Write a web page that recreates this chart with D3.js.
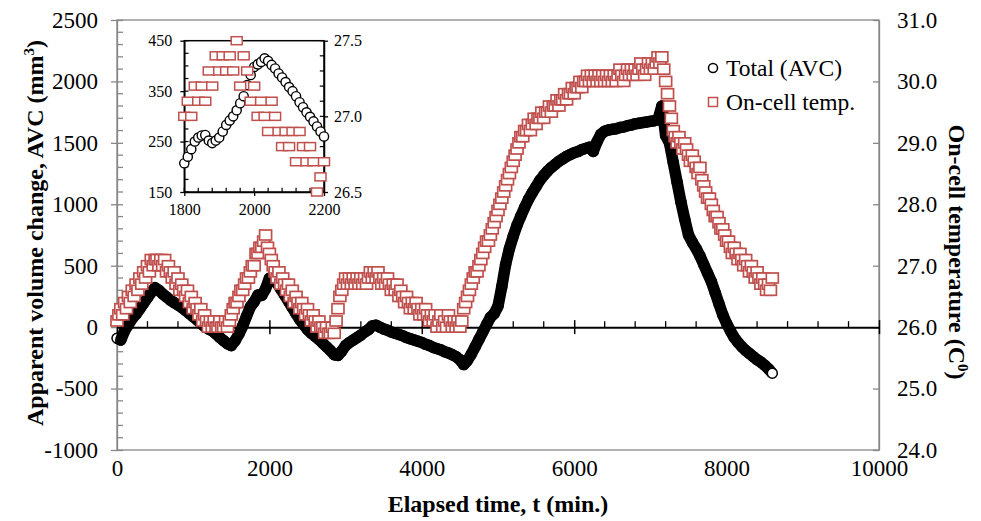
<!DOCTYPE html>
<html>
<head>
<meta charset="utf-8">
<script src="https://cdnjs.cloudflare.com/ajax/libs/d3/7.8.5/d3.min.js"></script>
<style>
    body { margin: 0; background: #fff; }
    svg text { font-family: "Liberation Serif", "Times New Roman", serif; fill: #000; }
</style>
</head>
<body>
<svg id="chartSvg"></svg>
<script>
// Apparent volume change (mm3) vs elapsed time (min)
const avcData = [
    [0,-90],[50,-105],[100,-30],[150,20],[200,70],[250,105],[300,150],[350,195],[400,240],[450,285],
    [500,320],[550,300],[600,270],[650,245],[700,220],[750,200],[800,180],[850,160],[900,135],[950,110],
    [1000,85],[1050,60],[1100,30],[1150,5],[1200,-15],[1250,-30],[1300,-55],[1350,-85],[1400,-110],[1450,-135],
    [1500,-150],[1550,-110],[1600,-55],[1650,10],[1700,90],[1750,165],[1800,207],[1850,262],[1900,258],[1950,312],
    [2000,398],[2050,402],[2100,358],[2150,308],[2200,260],[2250,210],[2300,160],[2350,110],[2400,60],[2450,20],
    [2500,-20],[2550,-50],[2600,-75],[2650,-100],[2700,-130],[2750,-160],[2800,-190],[2850,-225],[2900,-230],[2950,-195],
    [3000,-150],[3050,-125],[3100,-105],[3150,-85],[3200,-65],[3250,-40],[3300,-20],[3350,10],[3400,15],[3450,0],
    [3500,-15],[3550,-25],[3600,-40],[3650,-50],[3700,-60],[3750,-70],[3800,-85],[3850,-95],[3900,-105],[3950,-115],
    [4000,-125],[4050,-140],[4100,-150],[4150,-165],[4200,-175],[4250,-185],[4300,-200],[4350,-210],[4400,-225],[4450,-240],
    [4500,-265],[4550,-305],[4600,-270],[4650,-220],[4700,-160],[4750,-100],[4800,-40],[4850,20],[4900,80],[4950,110],
    [5000,170],[5050,330],[5100,510],[5150,640],[5200,740],[5250,830],[5300,905],[5350,975],[5400,1040],[5450,1095],
    [5500,1145],[5550,1195],[5600,1235],[5650,1270],[5700,1300],[5750,1325],[5800,1350],[5850,1370],[5900,1390],[5950,1405],
    [6000,1420],[6050,1430],[6100,1445],[6150,1455],[6200,1465],[6250,1430],[6300,1510],[6350,1570],[6400,1595],[6450,1605],
    [6500,1610],[6550,1615],[6600,1625],[6650,1630],[6700,1640],[6750,1645],[6800,1655],[6850,1660],[6900,1665],[6950,1670],
    [7000,1675],[7050,1680],[7100,1690],[7150,1800],[7200,1560],[7250,1500],[7300,1340],[7350,1180],[7400,1020],[7450,880],
    [7500,750],[7550,690],[7600,640],[7650,580],[7700,510],[7750,440],[7800,370],[7850,280],[7900,190],[7950,100],
    [8000,30],[8050,-30],[8100,-85],[8150,-125],[8200,-160],[8250,-190],[8300,-215],[8350,-240],[8400,-265],[8450,-285],
    [8500,-310],[8550,-340],[8600,-375]
];

// On-cell temperature (C) vs elapsed time (min); readings jump between 0.1 C steps
const tempData = [
    [0,26.1],[25,26.2],[50,26.3],[75,26.2],[100,26.4],[125,26.3],[150,26.5],[175,26.4],[200,26.6],[225,26.5],
    [250,26.7],[275,26.6],[300,26.8],[325,26.7],[350,26.9],[375,26.8],[400,27.0],[425,26.9],[450,27.1],[475,27.0],
    [500,27.1],[525,27.1],[550,27.0],[575,27.1],[600,27.0],[625,27.1],[650,26.9],[675,27.0],[700,26.9],[725,26.8],
    [750,26.9],[775,26.7],[800,26.8],[825,26.6],[850,26.7],[875,26.6],[900,26.5],[925,26.6],[950,26.4],[975,26.5],
    [1000,26.3],[1025,26.4],[1050,26.3],[1075,26.2],[1100,26.3],[1125,26.1],[1150,26.2],[1175,26.1],[1200,26.0],[1225,26.1],
    [1250,26.0],[1275,26.1],[1300,26.0],[1325,26.0],[1350,26.1],[1375,26.0],[1400,26.0],[1425,26.1],[1450,26.0],[1475,26.1],
    [1500,26.2],[1525,26.3],[1550,26.4],[1575,26.4],[1600,26.5],[1625,26.6],[1650,26.6],[1675,26.7],[1700,26.8],[1725,26.8],
    [1750,26.9],[1775,27.0],[1800,27.0],[1825,27.2],[1850,27.2],[1875,27.3],[1900,27.3],[1925,27.4],[1950,27.5],[1975,27.3],
    [2000,27.2],[2025,27.1],[2050,27.0],[2075,26.9],[2100,26.8],[2125,26.9],[2150,26.7],[2175,26.8],[2200,26.7],[2225,26.6],
    [2250,26.7],[2275,26.5],[2300,26.6],[2325,26.4],[2350,26.5],[2375,26.4],[2400,26.3],[2425,26.4],[2450,26.3],[2475,26.2],
    [2500,26.3],[2525,26.2],[2550,26.1],[2575,26.2],[2600,26.1],[2625,26.0],[2650,26.1],[2675,26.0],[2700,26.0],[2725,25.9],
    [2750,26.0],[2775,25.9],[2800,25.9],[2825,26.0],[2850,25.9],[2875,26.1],[2900,26.3],[2925,26.5],[2950,26.6],[2975,26.7],
    [3000,26.8],[3025,26.7],[3050,26.8],[3075,26.7],[3100,26.8],[3125,26.7],[3150,26.8],[3175,26.7],[3200,26.8],[3225,26.7],
    [3250,26.8],[3275,26.7],[3300,26.8],[3325,26.9],[3350,26.8],[3375,26.9],[3400,26.8],[3425,26.9],[3450,26.8],[3475,26.7],
    [3500,26.8],[3525,26.7],[3550,26.8],[3575,26.7],[3600,26.6],[3625,26.7],[3650,26.6],[3675,26.7],[3700,26.5],[3725,26.6],
    [3750,26.5],[3775,26.4],[3800,26.5],[3825,26.4],[3850,26.3],[3875,26.4],[3900,26.3],[3925,26.4],[3950,26.3],[3975,26.2],
    [4000,26.3],[4025,26.2],[4050,26.3],[4075,26.2],[4100,26.1],[4125,26.2],[4150,26.1],[4175,26.2],[4200,26.0],[4225,26.1],
    [4250,26.2],[4275,26.0],[4300,26.1],[4325,26.0],[4350,26.2],[4375,26.1],[4400,26.0],[4425,26.1],[4450,26.0],[4475,26.1],
    [4500,26.0],[4525,26.1],[4550,26.3],[4575,26.4],[4600,26.5],[4625,26.6],[4650,26.7],[4675,26.8],[4700,26.9],[4725,26.9],
    [4750,27.0],[4775,27.1],[4800,27.2],[4825,27.3],[4850,27.4],[4875,27.4],[4900,27.5],[4925,27.6],[4950,27.7],[4975,27.8],
    [5000,27.9],[5025,28.0],[5050,28.1],[5075,28.2],[5100,28.3],[5125,28.4],[5150,28.5],[5175,28.6],[5200,28.7],[5225,28.8],
    [5250,28.9],[5275,29.0],[5300,29.1],[5325,29.1],[5350,29.2],[5375,29.2],[5400,29.3],[5425,29.2],[5450,29.3],[5475,29.4],
    [5500,29.3],[5525,29.4],[5550,29.4],[5575,29.5],[5600,29.4],[5625,29.5],[5650,29.5],[5675,29.6],[5700,29.5],[5725,29.6],
    [5750,29.6],[5775,29.7],[5800,29.6],[5825,29.7],[5850,29.7],[5875,29.8],[5900,29.7],[5925,29.8],[5950,29.8],[5975,29.9],
    [6000,29.8],[6025,29.9],[6050,29.9],[6075,30.0],[6100,29.9],[6125,30.0],[6150,30.0],[6175,30.1],[6200,30.0],[6225,30.1],
    [6250,30.0],[6275,30.1],[6300,30.0],[6325,30.1],[6350,30.0],[6375,30.1],[6400,30.0],[6425,30.1],[6450,30.0],[6475,30.1],
    [6500,30.0],[6525,30.1],[6550,30.0],[6575,30.1],[6600,30.2],[6625,30.1],[6650,30.0],[6675,30.1],[6700,30.2],[6725,30.1],
    [6750,30.2],[6775,30.1],[6800,30.2],[6825,30.1],[6850,30.2],[6875,30.3],[6900,30.2],[6925,30.1],[6950,30.2],[6975,30.3],
    [7000,30.2],[7025,30.3],[7050,30.2],[7075,30.3],[7100,30.4],[7125,30.3],[7150,30.4],[7175,30.2],[7200,30.0],[7225,29.8],
    [7250,29.6],[7275,29.4],[7300,29.2],[7325,29.1],[7350,29.0],[7375,29.1],[7400,29.0],[7425,28.9],[7450,29.0],[7475,28.9],
    [7500,28.8],[7525,28.7],[7550,28.8],[7575,28.7],[7600,28.6],[7625,28.5],[7650,28.6],[7675,28.4],[7700,28.3],[7725,28.2],
    [7750,28.1],[7775,28.1],[7800,28.0],[7825,27.9],[7850,27.8],[7875,27.8],[7900,27.7],[7925,27.6],[7950,27.6],[7975,27.5],
    [8000,27.4],[8025,27.4],[8050,27.3],[8075,27.2],[8100,27.3],[8125,27.2],[8150,27.1],[8175,27.2],[8200,27.1],[8225,27.0],
    [8250,27.1],[8275,27.0],[8300,26.9],[8325,27.0],[8350,26.9],[8375,26.8],[8400,26.9],[8425,26.8],[8450,26.7],[8475,26.8],
    [8500,26.7],[8525,26.6],[8550,26.7],[8575,26.6],[8600,26.8]
];

// inset: zoom on 1800-2200 min
const insetAvcData = [
    [1800,207],[1810,220],[1820,235],[1830,250],[1840,258],[1850,262],[1860,263],[1870,252],[1880,247],[1890,252],
    [1900,258],[1910,270],[1920,283],[1930,292],[1940,300],[1950,312],[1960,326],[1970,340],[1980,362],[1990,382],
    [2000,398],[2010,403],[2020,408],[2030,415],[2040,410],[2050,402],[2060,395],[2070,385],[2080,377],[2090,368],
    [2100,358],[2110,350],[2120,340],[2130,328],[2140,318],[2150,308],[2160,299],[2170,290],[2180,280],[2190,270],
    [2200,260]
];
const insetTempData = [
    [1800,27.0],[1810,27.1],[1820,27.0],[1830,27.2],[1840,27.1],[1850,27.2],[1860,27.1],[1870,27.3],[1880,27.2],[1890,27.4],
    [1900,27.3],[1910,27.4],[1920,27.3],[1930,27.4],[1940,27.3],[1950,27.5],[1960,27.2],[1970,27.4],[1980,27.3],[1990,27.1],
    [2000,27.2],[2010,27.0],[2020,27.1],[2030,27.0],[2040,26.9],[2050,27.1],[2060,27.0],[2070,26.9],[2080,26.8],[2090,26.9],
    [2100,26.8],[2110,26.9],[2120,26.7],[2130,26.9],[2140,26.8],[2150,26.7],[2160,26.8],[2170,26.7],[2180,26.5],[2190,26.6],
    [2200,26.7]
];

const xTicks = [0, 2000, 4000, 6000, 8000, 10000];
const avcTicks = [-1000, -500, 0, 500, 1000, 1500, 2000, 2500];
const tempTicks = [24, 25, 26, 27, 28, 29, 30, 31];
const insetXTicks = [1800, 2000, 2200];
const insetAvcTicks = [150, 250, 350, 450];
const insetTempTicks = [26.5, 27.0, 27.5];
const seriesNames = ["Total (AVC)", "On-cell temp."];

const width = 981, height = 521;
const red = "#c0504d", gray = "#878787";
const plain = d => String(d);
const oneDec = d => d.toFixed(1);

const svg = d3.select("#chartSvg")
    .attr("width", width)
    .attr("height", height);

const x = d3.scaleLinear().domain([0, 10000]).range([117, 879]);
const yL = d3.scaleLinear().domain([-1000, 2500]).range([450, 20]);
const yR = d3.scaleLinear().domain([24, 31]).range([450, 20]);

// plot frame
svg.append("rect")
    .attr("x", 117).attr("y", 20).attr("width", 762).attr("height", 430)
    .attr("fill", "none").attr("stroke", gray).attr("stroke-width", 1.3);

// left axis with crossing major ticks, inside minor ticks
const leftAxis = svg.append("g")
    .attr("transform", "translate(117,0)")
    .call(d3.axisLeft(yL).tickValues(avcTicks).tickFormat(plain).tickSizeInner(6).tickSizeOuter(0).tickPadding(13));
leftAxis.selectAll(".tick line").attr("x2", -6).attr("x1", 6).attr("stroke", gray).attr("stroke-width", 1.3);
leftAxis.select(".domain").attr("stroke", gray).attr("stroke-width", 1.3);
leftAxis.selectAll("text").style("font-size", "23px");
svg.append("g").selectAll("line")
    .data(d3.range(-1000, 2501, 100).filter(v => v % 500 !== 0))
    .join("line")
    .attr("x1", 117).attr("x2", 123)
    .attr("y1", d => yL(d)).attr("y2", d => yL(d))
    .attr("stroke", gray).attr("stroke-width", 1.3);

// right axis (temperature)
const rightAxis = svg.append("g")
    .attr("transform", "translate(879,0)")
    .call(d3.axisRight(yR).tickValues(tempTicks).tickFormat(oneDec)
        .tickSizeInner(-6).tickSizeOuter(0).tickPadding(18));
rightAxis.selectAll(".tick line").attr("stroke", gray).attr("stroke-width", 1.3);
rightAxis.select(".domain").attr("stroke", gray).attr("stroke-width", 1.3);
rightAxis.selectAll("text").style("font-size", "23px");

// x labels sit at the bottom, ticks live on the zero line
const bottomAxis = svg.append("g")
    .attr("transform", "translate(0,450)")
    .call(d3.axisBottom(x).tickValues(xTicks).tickFormat(plain).tickSize(0).tickPadding(10));
bottomAxis.select(".domain").remove();
bottomAxis.selectAll("text").style("font-size", "23px");

const zeroAxis = svg.append("g")
    .attr("transform", `translate(0,${yL(0)})`)
    .call(d3.axisBottom(x).tickValues(xTicks).tickFormat("").tickSizeInner(7).tickSizeOuter(0));
zeroAxis.selectAll(".tick line").attr("y1", -7).attr("y2", 7).attr("stroke", "#000").attr("stroke-width", 1.5);
zeroAxis.select(".domain").attr("stroke", "#000").attr("stroke-width", 2);
zeroAxis.append("g").selectAll("line")
    .data(d3.range(0, 10001, 400).filter(v => v % 2000 !== 0))
    .join("line")
    .attr("x1", d => x(d)).attr("x2", d => x(d))
    .attr("y1", 0).attr("y2", -6)
    .attr("stroke", "#000").attr("stroke-width", 1.3);

// AVC: markers are so dense they read as a thick band
svg.append("path")
    .datum(avcData)
    .attr("d", d3.line().x(d => x(d[0])).y(d => yL(d[1])))
    .attr("fill", "none").attr("stroke", "#000")
    .attr("stroke-width", 11.5).attr("stroke-linejoin", "round");
svg.append("g").selectAll("circle")
    .data(avcData)
    .join("circle")
    .attr("cx", d => x(d[0])).attr("cy", d => yL(d[1]))
    .attr("r", 5)
    .attr("fill", (d, i) => i === avcData.length - 1 ? "#fff" : "none")
    .attr("stroke", "#000").attr("stroke-width", 1.5);

// temperature squares
svg.append("g").selectAll("rect")
    .data(tempData)
    .join("rect")
    .attr("x", d => x(d[0]) - 6).attr("y", d => yR(d[1]) - 5)
    .attr("width", 12).attr("height", 10)
    .attr("fill", "#fff").attr("stroke", red).attr("stroke-width", 1.7);

// axis titles
svg.append("text")
    .attr("transform", "translate(43,233) rotate(-90)")
    .attr("text-anchor", "middle")
    .style("font-size", "24px").style("font-weight", "bold")
    .text("Apparent volume change, AVC (mm")
    .append("tspan").attr("dy", -9).style("font-size", "15px").text("3")
    .select(function() { return this.parentNode; })
    .append("tspan").attr("dy", 9).text(")");

svg.append("text")
    .attr("transform", "translate(949,252) rotate(90)")
    .attr("text-anchor", "middle")
    .style("font-size", "24px").style("font-weight", "bold")
    .text("On-cell temperature (C")
    .append("tspan").attr("dy", -9).style("font-size", "15px").text("0")
    .select(function() { return this.parentNode; })
    .append("tspan").attr("dy", 9).text(")");

svg.append("text")
    .attr("x", 498).attr("y", 512)
    .attr("text-anchor", "middle")
    .style("font-size", "24px").style("font-weight", "bold")
    .text("Elapsed time, t (min.)");

// legend
const legend = svg.append("g");
legend.append("circle").attr("cx", 713).attr("cy", 68).attr("r", 4.5)
    .attr("fill", "#fff").attr("stroke", "#000").attr("stroke-width", 1.5);
legend.append("rect").attr("x", 708.5).attr("y", 97.5).attr("width", 9).attr("height", 9)
    .attr("fill", "#fff").attr("stroke", red).attr("stroke-width", 1.5);
legend.selectAll("text")
    .data(seriesNames)
    .join("text")
    .attr("x", 726).attr("y", (d, i) => 76 + i * 34)
    .style("font-size", "23.5px")
    .text(d => d);

// inset chart
const ix = d3.scaleLinear().domain([1800, 2200]).range([184.3, 324]);
const iyL = d3.scaleLinear().domain([150, 450]).range([192, 40.7]);
const iyR = d3.scaleLinear().domain([26.5, 27.5]).range([192, 40.7]);

const inset = svg.append("g");
inset.append("rect")
    .attr("x", 184.3).attr("y", 40.7).attr("width", 139.7).attr("height", 151.3)
    .attr("fill", "#fff").attr("stroke", "#000").attr("stroke-width", 1.5);

const iLeft = inset.append("g").attr("transform", "translate(184.3,0)")
    .call(d3.axisLeft(iyL).tickValues(insetAvcTicks).tickFormat(plain).tickSizeInner(4).tickSizeOuter(0).tickPadding(8));
const iRight = inset.append("g").attr("transform", "translate(324,0)")
    .call(d3.axisRight(iyR).tickValues(insetTempTicks).tickFormat(oneDec)
        .tickSizeInner(4).tickSizeOuter(0).tickPadding(6));
const iBottom = inset.append("g").attr("transform", "translate(0,192)")
    .call(d3.axisBottom(ix).tickValues(insetXTicks).tickFormat(plain).tickSizeInner(4).tickSizeOuter(0).tickPadding(8));
[iLeft, iRight, iBottom].forEach(a => {
    a.select(".domain").attr("stroke", "#000").attr("stroke-width", 1.5);
    a.selectAll(".tick line").attr("stroke", "#000").attr("stroke-width", 1.3);
    a.selectAll("text").style("font-size", "16px");
});

// inset minor ticks pointing inwards
inset.append("g").selectAll("line")
    .data(d3.range(150, 451, 25))
    .join("line")
    .attr("x1", 184.3).attr("x2", 188.5)
    .attr("y1", d => iyL(d)).attr("y2", d => iyL(d))
    .attr("stroke", "#000").attr("stroke-width", 1.2);
inset.append("g").selectAll("line")
    .data(d3.range(26.5, 27.51, 0.1))
    .join("line")
    .attr("x1", 324).attr("x2", 319.8)
    .attr("y1", d => iyR(d)).attr("y2", d => iyR(d))
    .attr("stroke", "#000").attr("stroke-width", 1.2);
inset.append("g").selectAll("line")
    .data(d3.range(1800, 2201, 40))
    .join("line")
    .attr("x1", d => ix(d)).attr("x2", d => ix(d))
    .attr("y1", 192).attr("y2", 187.8)
    .attr("stroke", "#000").attr("stroke-width", 1.2);

inset.append("g").selectAll("circle")
    .data(insetAvcData)
    .join("circle")
    .attr("cx", d => ix(d[0])).attr("cy", d => iyL(d[1]))
    .attr("r", 4.6)
    .attr("fill", "#fff").attr("stroke", "#000").attr("stroke-width", 1.4);

inset.append("g").selectAll("rect")
    .data(insetTempData)
    .join("rect")
    .attr("x", d => ix(d[0]) - 5.5).attr("y", d => iyR(d[1]) - 4)
    .attr("width", 11).attr("height", 8)
    .attr("fill", "#fff").attr("stroke", red).attr("stroke-width", 1.5);
</script>
</body>
</html>
